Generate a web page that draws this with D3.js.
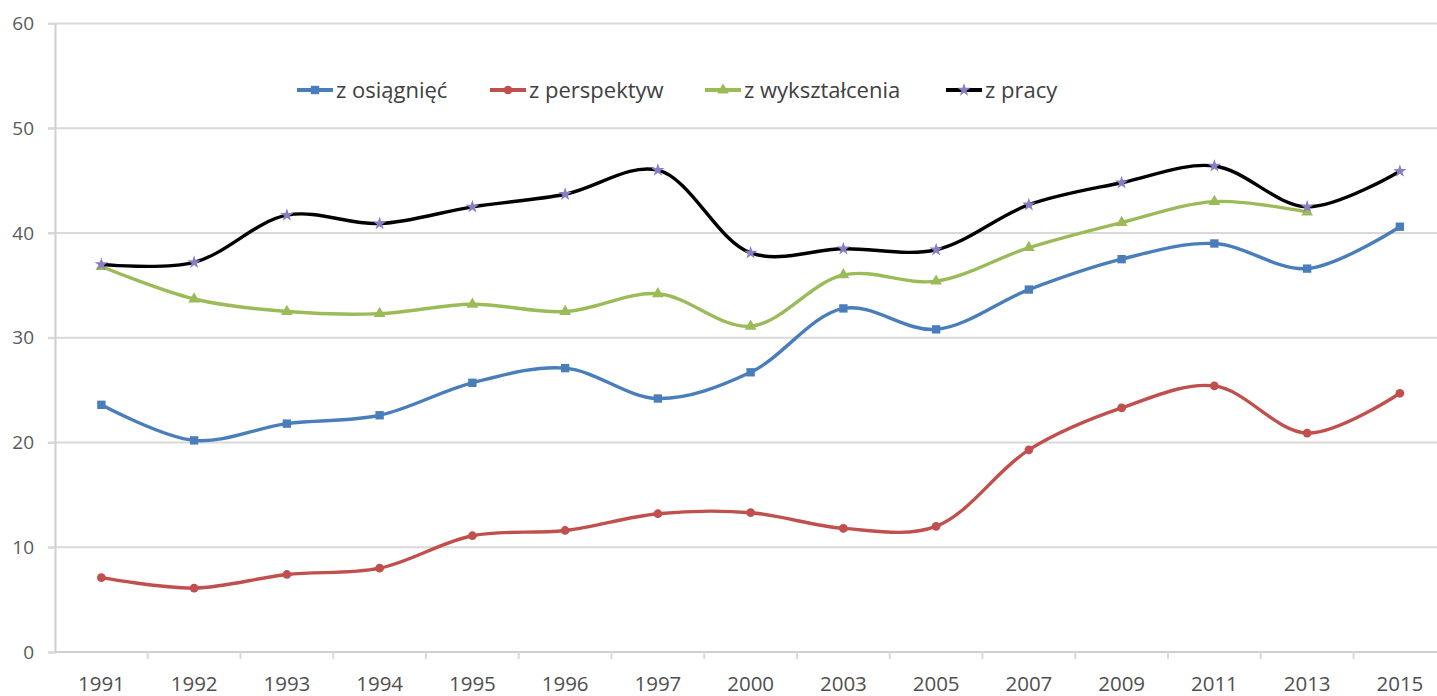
<!DOCTYPE html>
<html><head><meta charset="utf-8">
<script src="https://cdn.jsdelivr.net/npm/d3@7"></script>
<style>
html,body{margin:0;padding:0;background:#fff;overflow:hidden}
text{font-family:"Open Sans",sans-serif}
</style></head>
<body><svg id="c" width="1437" height="696"></svg>
<script>
const years = ["1991","1992","1993","1994","1995","1996","1997","2000","2003","2005","2007","2009","2011","2013","2015"];
const osiagniec = [23.6,20.2,21.8,22.6,25.7,27.1,24.2,26.7,32.8,30.8,34.6,37.5,39.0,36.6,40.6];
const perspektyw = [7.1,6.1,7.4,8.0,11.1,11.6,13.2,13.3,11.8,12.0,19.3,23.3,25.4,20.9,24.7];
const wyksztalcenia = [36.8,33.7,32.5,32.3,33.2,32.5,34.2,31.1,36.0,35.4,38.6,41.0,43.0,42.0,null];
const pracy = [37.0,37.2,41.7,40.9,42.5,43.7,46.0,38.1,38.5,38.4,42.7,44.8,46.4,42.5,45.9];
const yTicks = [0,10,20,30,40,50,60];
const seriesNames = ["z osiągnięć","z perspektyw","z wykształcenia","z pracy"];

const series = [
  {name:seriesNames[0], values:osiagniec, color:"#4a7ebb", mcolor:"#4a7ebb", marker:d3.symbolSquare, msize:70},
  {name:seriesNames[1], values:perspektyw, color:"#c0504d", mcolor:"#c0504d", marker:d3.symbolCircle, msize:60},
  {name:seriesNames[2], values:wyksztalcenia, color:"#9bbb59", mcolor:"#9bbb59", marker:d3.symbolTriangle, msize:60},
  {name:seriesNames[3], values:pracy, color:"#000000", mcolor:"#8c7cc4", marker:d3.symbolStar, msize:55}
];

const svg = d3.select("#c");
const mLeft = 55, mTop = 23.5, mBottom = 652;
const x = d3.scaleBand().domain(years).range([mLeft, mLeft + 15*92.75]);
const y = d3.scaleLinear().domain([0,60]).range([mBottom, mTop]);
const cx = d => x(d) + x.bandwidth()/2;

// gridlines
svg.append("g").selectAll("line").data(yTicks.filter(t=>t>0)).join("line")
  .attr("x1", mLeft-7).attr("x2", 1437).attr("y1", d=>y(d)).attr("y2", d=>y(d))
  .attr("stroke", "#d9d9d9").attr("stroke-width", 2.2);

// y axis
const ya = svg.append("g").attr("transform", `translate(${mLeft},0)`)
  .call(d3.axisLeft(y).tickValues(yTicks).tickSize(7).tickPadding(14));
ya.select(".domain").attr("stroke", "#cfcfcf").attr("stroke-width", 2);
ya.selectAll(".tick line").attr("stroke", "#d9d9d9").attr("stroke-width", 2);
ya.selectAll("text").attr("font-size", 19).attr("fill", "#5a5a5a");

// x axis
const xa = svg.append("g").attr("transform", `translate(0,${mBottom})`)
  .call(d3.axisBottom(x).tickSize(0).tickPadding(24));
xa.select(".domain").remove();
svg.append("line").attr("x1", mLeft).attr("x2", 1437).attr("y1", mBottom).attr("y2", mBottom)
  .attr("stroke", "#cfcfcf").attr("stroke-width", 2);
svg.append("g").selectAll("line").data(years.slice(1)).join("line")
  .attr("x1", d=>x(d)).attr("x2", d=>x(d)).attr("y1", mBottom).attr("y2", mBottom+7)
  .attr("stroke", "#d9d9d9").attr("stroke-width", 2);
xa.selectAll("text").attr("font-size", 20.5).attr("fill", "#505050");

// lines
const line = d3.line().defined(d=>d.v!=null).x(d=>cx(d.k)).y(d=>y(d.v)).curve(d3.curveCatmullRom.alpha(0.5));
series.forEach(s => {
  const pts = years.map((k,i)=>({k, v:s.values[i]}));
  svg.append("path").datum(pts).attr("d", line).attr("fill","none")
    .attr("stroke", s.color).attr("stroke-width", 3.4).attr("stroke-linejoin","round");
  svg.append("g").selectAll("path").data(pts.filter(d=>d.v!=null)).join("path")
    .attr("transform", d=>`translate(${cx(d.k)},${y(d.v)})`)
    .attr("d", d3.symbol().type(s.marker).size(s.msize))
    .attr("fill", s.mcolor);
});

// legend
const legX = [297, 490, 705, 946];
const lg = svg.append("g");
series.forEach((s,i) => {
  const g = lg.append("g").attr("transform", `translate(${legX[i]},90)`);
  g.append("line").attr("x1",0).attr("x2",36).attr("y1",0).attr("y2",0)
    .attr("stroke", s.color).attr("stroke-width", 4);
  g.append("path").attr("transform","translate(18,0)")
    .attr("d", d3.symbol().type(s.marker).size(s.msize)).attr("fill", s.mcolor);
  g.append("text").attr("x", 39).attr("y", 0).attr("dy","0.35em")
    .attr("font-size", 22).attr("fill", "#404040").text(s.name);
});
</script></body></html>
